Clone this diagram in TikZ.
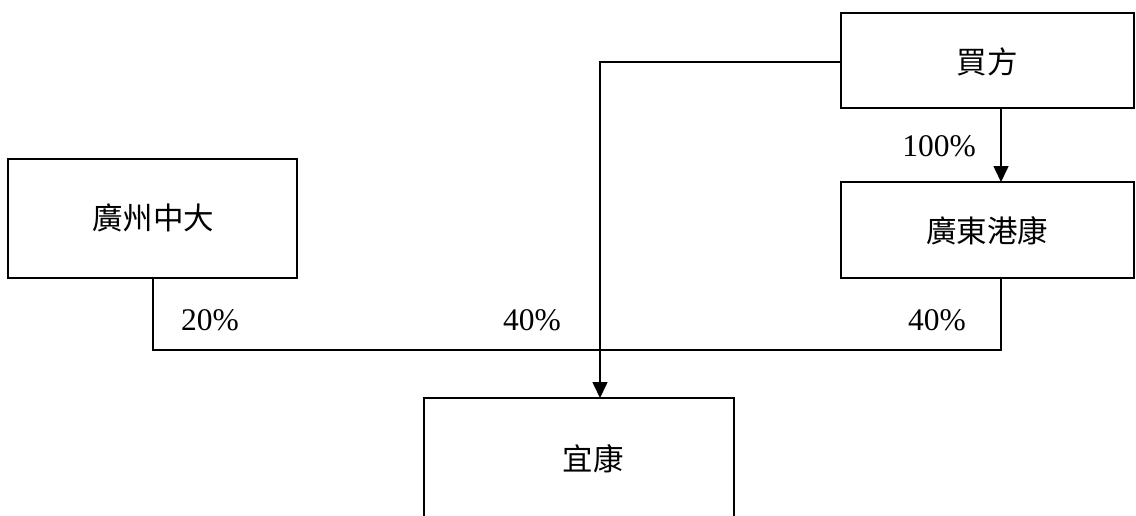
\documentclass[tikz,border=0pt]{standalone}
\usepackage{fontspec}
\setmainfont{Liberation Serif}
\newfontfamily\cjk{Noto Sans CJK TC}
\usetikzlibrary{arrows.meta}
\begin{document}
\begin{tikzpicture}[x=1pt,y=-1pt,
  box/.style={draw,line width=1.6pt,rectangle},
  lbl/.style={font=\fontsize{30.5}{33}\selectfont\cjk},
  pct/.style={font=\fontsize{31.5}{34}\selectfont},
  conn/.style={line width=1.6pt},
  arr/.style={conn,-{Triangle[length=16pt,width=15pt]}}]
\useasboundingbox (0,0) rectangle (1136,515);
\draw[box] (841,13) rectangle (1134,108);
\node[lbl] (buyer) at (987,62) {買方};
\coordinate (buyerL) at (841,62);
\coordinate (buyerB) at (1001,108);
\draw[box] (841,182) rectangle (1134,278);
\node[lbl] (gdgk) at (987,231) {廣東港康};
\coordinate (gdgkT) at (1001,182);
\coordinate (gdgkB) at (1001,278);
\draw[box] (8,159) rectangle (297,278);
\node[lbl] (gzzd) at (153,218) {廣州中大};
\coordinate (gzzdB) at (153,278);
\draw[box] (424,398) rectangle (734,560);
\node[lbl] (yk) at (593,459) {宜康};
\coordinate (ykT) at (600,398);
\draw[arr] (buyerL) -| (ykT);
\draw[arr] (buyerB) -- (gdgkT);
\draw[conn] (gzzdB) |- (600,350) -| (gdgkB);
\node[pct] (p100) at (939,146) {100\%};
\node[pct] (p20) at (210,320) {20\%};
\node[pct] (p40a) at (532,320) {40\%};
\node[pct] (p40b) at (937,320) {40\%};
\end{tikzpicture}
\end{document}
